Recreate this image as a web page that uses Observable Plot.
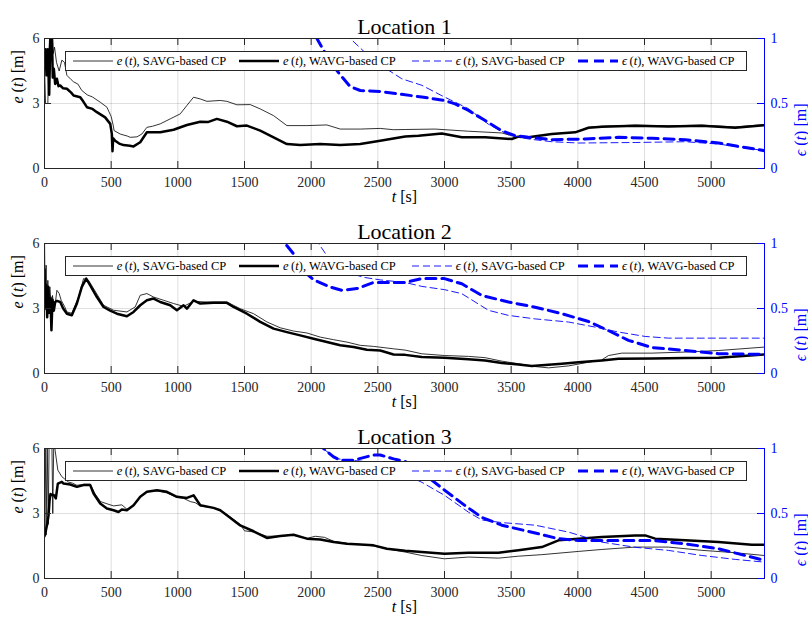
<!DOCTYPE html>
<html>
<head>
<meta charset="utf-8">
<script src="https://cdn.jsdelivr.net/npm/d3@7"></script>
<script src="https://cdn.jsdelivr.net/npm/@observablehq/plot@0.6"></script>
<style>
  body { margin: 0; background: #fff; font-family: "Liberation Serif", "DejaVu Serif", serif; }
  .panel { position: relative; width: 808px; height: 205px; overflow: visible; }
  .panel svg { display: block; overflow: visible; }
  .legend { position: absolute; left: 65px; top: 51px; width: 682px; height: 20px; box-sizing: border-box;
            border: 1px solid #262626; background: #fff; z-index: 2; }
  .item { position: absolute; top: 0; height: 18px; display: flex; align-items: center; white-space: nowrap;
          font-size: 12.5px; color: #000; line-height: 18px; }
  .item svg { margin-right: 4px; }
</style>
</head>
<body>
<div id="root"></div>
<script>
// ---------- data ----------
const xTicks = [0, 500, 1000, 1500, 2000, 2500, 3000, 3500, 4000, 4500, 5000];
const eTicks = [0, 3, 6];
const epsTickLabels = ["0", "0.5", "1"];
const titles = ["Location 1", "Location 2", "Location 3"];
const legendSymbols = ["e", "e", "ϵ", "ϵ"];
const legendMethods = ["SAVG-based CP", "WAVG-based CP", "SAVG-based CP", "WAVG-based CP"];

// Location 1: [t (s), value]
const loc1_eSAVG = [[0,4.7],[8,3.0],[25,3.0],[33,5.4],[42,6.5],[55,6.6],[65,5.3],[75,5.6],[90,4.9],[110,4.5],[130,5.0],[150,4.9],[168,4.3],[200,4.1],[218,4.0],[250,3.9],[280,3.6],[320,3.4],[360,3.3],[418,3.06],[468,2.83],[500,2.4],[515,2.0],[522,1.75],[568,1.59],[620,1.5],[643,1.44],[693,1.46],[730,1.59],[768,1.9],[810,1.95],[868,2.06],[943,2.29],[1018,2.52],[1068,2.91],[1118,3.29],[1168,3.21],[1218,3.1],[1318,3.14],[1368,3.1],[1443,2.94],[1543,2.95],[1618,2.75],[1718,2.44],[1818,1.98],[1968,1.98],[2118,2.01],[2218,1.82],[2368,1.82],[2518,1.85],[2618,1.79],[2705,1.8],[2930,1.82],[3180,1.72],[3430,1.64],[3505,1.51],[3630,1.44],[3805,1.59],[3980,1.67],[4080,1.9],[4180,1.95],[4430,2.0],[4680,1.97],[4930,2.0],[5180,1.92],[5400,2.03]];
const loc1_eWAVG = [[0,4.7],[8,5.5],[15,4.3],[25,5.5],[35,3.4],[45,6.2],[55,6.5],[62,4.2],[70,4.6],[80,3.9],[93,4.14],[105,3.8],[118,3.83],[140,3.7],[168,3.68],[200,3.5],[218,3.37],[268,3.29],[290,3.1],[318,2.83],[360,2.75],[393,2.6],[455,2.36],[493,2.06],[505,1.6],[510,0.8],[515,1.4],[530,1.28],[560,1.15],[593,1.08],[640,1.05],[668,1.02],[718,1.21],[768,1.67],[868,1.67],[968,1.79],[1068,2.01],[1168,2.16],[1230,2.15],[1293,2.29],[1368,2.16],[1443,1.95],[1518,1.98],[1618,1.75],[1718,1.44],[1818,1.13],[1918,1.08],[2068,1.13],[2218,1.08],[2368,1.13],[2518,1.28],[2705,1.48],[2805,1.51],[2980,1.62],[3130,1.44],[3305,1.44],[3505,1.36],[3555,1.47],[3630,1.44],[3805,1.59],[3980,1.67],[4080,1.88],[4180,1.93],[4430,1.97],[4680,1.94],[4930,1.97],[5180,1.88],[5400,2.0]];
const loc1_epsSAVG = [[2200,1.1],[2293,1.0],[2468,0.83],[2680,0.69],[2830,0.64],[2980,0.56],[3180,0.46],[3330,0.34],[3480,0.26],[3630,0.227],[3805,0.206],[4005,0.196],[4430,0.2],[4805,0.206],[5055,0.188],[5400,0.137]];
const loc1_epsWAVG = [[1990,1.12],[2043,1.0],[2143,0.82],[2218,0.72],[2293,0.63],[2368,0.60],[2518,0.593],[2643,0.575],[2830,0.55],[3000,0.523],[3080,0.497],[3180,0.446],[3305,0.369],[3430,0.29],[3530,0.253],[3630,0.24],[3805,0.222],[4055,0.227],[4305,0.24],[4555,0.232],[4805,0.222],[5055,0.196],[5400,0.137]];

// Location 2
const loc2_eSAVG = [[0,6.5],[5,3.0],[12,5.0],[18,2.8],[25,4.3],[32,3.0],[40,4.0],[50,3.2],[60,3.6],[70,3.0],[80,3.2],[93,3.84],[110,3.7],[125,3.38],[150,3.1],[168,2.84],[205,2.78],[255,3.53],[293,4.38],[330,4.3],[380,3.8],[443,3.15],[518,2.92],[618,2.84],[680,3.07],[718,3.61],[768,3.69],[818,3.53],[893,3.38],[968,3.23],[1043,3.1],[1118,3.33],[1218,3.3],[1368,3.3],[1468,2.99],[1568,2.76],[1668,2.38],[1768,2.11],[1868,1.96],[1968,1.87],[2068,1.68],[2168,1.56],[2268,1.45],[2368,1.3],[2468,1.25],[2618,1.14],[2705,1.08],[2830,0.91],[3000,0.83],[3180,0.79],[3305,0.73],[3430,0.57],[3555,0.45],[3680,0.32],[3780,0.26],[3930,0.35],[4080,0.52],[4180,0.63],[4230,0.83],[4330,0.94],[4555,0.94],[4805,0.99],[5055,1.06],[5400,1.22]];
const loc2_eWAVG = [[0,4.8],[6,3.0],[12,4.1],[20,2.6],[28,4.0],[36,2.8],[45,3.5],[52,2.0],[60,3.4],[70,2.9],[80,3.3],[93,3.35],[118,3.3],[140,3.0],[168,2.76],[205,2.69],[243,3.23],[280,4.0],[313,4.38],[343,4.07],[393,3.53],[443,3.07],[493,2.9],[543,2.76],[618,2.64],[668,2.84],[718,3.15],[768,3.38],[818,3.46],[868,3.3],[943,3.15],[993,2.92],[1043,3.15],[1068,2.99],[1118,3.38],[1168,3.23],[1268,3.26],[1368,3.26],[1418,3.07],[1518,2.76],[1618,2.38],[1718,2.07],[1818,1.91],[1918,1.76],[2018,1.6],[2118,1.45],[2218,1.30],[2318,1.22],[2418,1.10],[2518,1.06],[2618,0.88],[2705,0.86],[2830,0.76],[3000,0.73],[3180,0.66],[3305,0.60],[3430,0.48],[3555,0.42],[3655,0.35],[3755,0.39],[3880,0.45],[4005,0.52],[4180,0.60],[4305,0.68],[4555,0.69],[4805,0.71],[5055,0.73],[5400,0.88]];
const loc2_epsSAVG = [[2000,1.12],[2055,1.0],[2143,0.87],[2268,0.78],[2393,0.74],[2518,0.72],[2705,0.70],[2830,0.67],[3000,0.645],[3130,0.614],[3230,0.55],[3330,0.486],[3480,0.447],[3680,0.42],[3930,0.396],[4130,0.357],[4305,0.319],[4505,0.285],[4680,0.272],[5055,0.272],[5400,0.272]];
const loc2_epsWAVG = [[1780,1.1],[1805,1.0],[1868,0.92],[1930,0.80],[2018,0.72],[2143,0.665],[2230,0.64],[2343,0.653],[2468,0.70],[2593,0.70],[2705,0.70],[2830,0.73],[3000,0.73],[3130,0.69],[3280,0.60],[3480,0.55],[3680,0.51],[3880,0.46],[4080,0.40],[4230,0.33],[4380,0.255],[4555,0.20],[4805,0.177],[5055,0.152],[5400,0.147]];

// Location 3
const loc3_eSAVG = [[0,3.9],[5,6.5],[12,2.0],[20,6.5],[28,2.5],[35,6.5],[45,6.5],[55,6.5],[62,3.0],[70,6.5],[80,5.9],[100,5.0],[130,4.7],[150,4.6],[180,4.45],[210,4.4],[243,4.3],[293,4.35],[343,4.35],[380,3.9],[420,3.55],[468,3.45],[518,3.35],[580,3.4],[618,3.2],[668,3.35],[718,3.75],[768,4.0],[843,4.05],[918,3.95],[993,3.75],[1043,3.7],[1093,3.55],[1130,3.5],[1168,3.35],[1268,3.25],[1318,3.15],[1368,2.95],[1468,2.5],[1500,2.2],[1568,2.15],[1668,1.95],[1768,1.96],[1868,2.0],[1968,1.85],[2030,1.95],[2100,1.9],[2168,1.72],[2268,1.62],[2368,1.57],[2468,1.5],[2568,1.37],[2705,1.22],[2830,1.06],[3000,0.91],[3180,0.99],[3405,0.94],[3555,1.03],[3730,1.10],[4005,1.25],[4180,1.34],[4430,1.45],[4680,1.45],[4930,1.30],[5180,1.19],[5400,1.06]];
const loc3_eWAVG = [[0,1.95],[10,2.2],[20,2.5],[30,2.9],[38,3.6],[45,3.9],[55,3.85],[70,3.85],[85,3.7],[100,4.38],[130,4.46],[143,4.38],[193,4.34],[243,4.23],[293,4.31],[343,4.31],[368,3.92],[418,3.46],[468,3.23],[518,3.15],[555,3.07],[580,3.18],[618,3.15],[668,3.38],[718,3.77],[768,4.0],[843,4.07],[918,4.0],[993,3.77],[1068,3.72],[1118,3.84],[1168,3.38],[1268,3.26],[1318,3.15],[1368,2.92],[1468,2.45],[1568,2.18],[1668,1.87],[1768,1.96],[1868,2.02],[1968,1.84],[2068,1.80],[2168,1.68],[2268,1.60],[2368,1.57],[2468,1.53],[2568,1.37],[2705,1.28],[2830,1.22],[3000,1.14],[3180,1.19],[3405,1.19],[3555,1.30],[3730,1.45],[3855,1.76],[4005,1.84],[4180,1.91],[4430,1.99],[4505,1.99],[4580,1.84],[4805,1.76],[5055,1.68],[5305,1.56],[5400,1.56]];
const loc3_epsSAVG = [[2060,1.06],[2100,0.99],[2200,0.92],[2400,0.9],[2600,0.86],[2705,0.80],[2830,0.74],[3000,0.64],[3180,0.51],[3280,0.45],[3430,0.43],[3680,0.41],[3930,0.357],[4180,0.28],[4430,0.24],[4680,0.216],[4930,0.177],[5180,0.147],[5400,0.126]];
const loc3_epsWAVG = [[2060,1.06],[2093,1.0],[2168,0.935],[2218,0.91],[2318,0.91],[2468,0.95],[2518,0.95],[2618,0.92],[2705,0.90],[2800,0.84],[2900,0.76],[3000,0.68],[3155,0.56],[3280,0.47],[3430,0.41],[3680,0.35],[3855,0.306],[4005,0.293],[4305,0.293],[4555,0.293],[4805,0.267],[5055,0.229],[5400,0.139]];

const locations = [
  [loc1_eSAVG, loc1_eWAVG, loc1_epsSAVG, loc1_epsWAVG],
  [loc2_eSAVG, loc2_eWAVG, loc2_epsSAVG, loc2_epsWAVG],
  [loc3_eSAVG, loc3_eWAVG, loc3_epsSAVG, loc3_epsWAVG]
];

// ---------- styles ----------
const FONT = "'Liberation Serif', 'DejaVu Serif', serif";
const AX = "#262626";
const BLUE = "#0000ff";
const seriesStyle = [
  {stroke: "#000", width: 0.8, dash: null},
  {stroke: "#000", width: 2.5, dash: null},
  {stroke: BLUE, width: 0.9, dash: "7,4"},
  {stroke: BLUE, width: 3, dash: "10,6"}
];
const legendItemLeft = [6.7, 173, 345.7, 512];

const E_MAX = 6, X_MAX = 5400, FRAME_W = 720, FRAME_H = 130, TICK = 7;
const tx = X_MAX * TICK / FRAME_W, ty = E_MAX * TICK / FRAME_H;

const rich = {
  "e (t) [m]": '<tspan font-style="italic">e</tspan> (<tspan font-style="italic">t</tspan>) [m]',
  "ϵ (t) [m]": '<tspan font-style="italic">ϵ</tspan> (<tspan font-style="italic">t</tspan>) [m]',
  "t [s]": '<tspan font-style="italic">t</tspan> [s]'
};

const rows = arr => arr.map(([t, v]) => ({t, v}));

function makePanel(title, series) {
  const [eS, eW, pS, pW] = series;
  const plot = Plot.plot({
    width: 808, height: 205,
    marginLeft: 44, marginRight: 44, marginTop: 38, marginBottom: 37,
    x: {domain: [0, X_MAX]},
    y: {domain: [0, E_MAX]},
    style: {fontFamily: FONT, fontSize: "14px", color: AX, background: "transparent", overflow: "visible"},
    marks: [
      Plot.gridX(xTicks, {stroke: AX, strokeOpacity: 0.15}),
      Plot.gridY(eTicks, {stroke: AX, strokeOpacity: 0.15}),
      Plot.line(rows(eS), {x: "t", y: "v", stroke: seriesStyle[0].stroke, strokeWidth: seriesStyle[0].width, clip: true}),
      Plot.line(rows(eW), {x: "t", y: "v", stroke: seriesStyle[1].stroke, strokeWidth: seriesStyle[1].width, strokeLinejoin: "round", clip: true}),
      Plot.line(rows(pS), {x: "t", y: d => d.v * E_MAX, stroke: seriesStyle[2].stroke, strokeWidth: seriesStyle[2].width, strokeDasharray: seriesStyle[2].dash, clip: true}),
      Plot.line(rows(pW), {x: "t", y: d => d.v * E_MAX, stroke: seriesStyle[3].stroke, strokeWidth: seriesStyle[3].width, strokeDasharray: seriesStyle[3].dash, clip: true}),
      Plot.frame({stroke: AX}),
      Plot.ruleX([X_MAX], {stroke: BLUE}),
      Plot.ruleX(xTicks, {x: d => d, y1: 0, y2: ty, stroke: AX}),
      Plot.ruleX(xTicks, {x: d => d, y1: E_MAX - ty, y2: E_MAX, stroke: AX}),
      Plot.ruleY(eTicks, {y: d => d, x1: 0, x2: tx, stroke: AX}),
      Plot.ruleY(eTicks, {y: d => d, x1: X_MAX - tx, x2: X_MAX, stroke: BLUE}),
      Plot.axisX({ticks: xTicks, tickSize: 0, tickPadding: 9, label: null, fontSize: 14, fontFamily: FONT, fontVariant: "normal",
                  color: AX, tickFormat: d => String(d)}),
      Plot.axisY({ticks: eTicks, anchor: "left", tickSize: 0, tickPadding: 5, label: null, fontSize: 14, fontFamily: FONT, fontVariant: "normal",
                  color: AX, tickFormat: d => String(d)}),
      Plot.axisY({ticks: eTicks, anchor: "right", tickSize: 0, tickPadding: 6, label: null, fontSize: 14, fontFamily: FONT, fontVariant: "normal",
                  color: BLUE, tickFormat: d => epsTickLabels[eTicks.indexOf(d)]}),
      Plot.text([title], {text: d => d, frameAnchor: "top", dy: -20, fontSize: 22, fontFamily: FONT, fill: "#000"}),
      Plot.text(["e (t) [m]"], {text: d => d, frameAnchor: "left", dx: -27, rotate: -90, fontSize: 16, fontFamily: FONT, fill: "#000"}),
      Plot.text(["ϵ (t) [m]"], {text: d => d, frameAnchor: "right", dx: 36, rotate: -90, fontSize: 16, fontFamily: FONT, fill: BLUE}),
      Plot.text(["t [s]"], {text: d => d, frameAnchor: "bottom", dy: 33, fontSize: 16, fontFamily: FONT, fill: "#000"})
    ]
  });
  for (const el of plot.querySelectorAll("text")) {
    const key = el.textContent;
    if (rich[key]) el.innerHTML = rich[key];
  }
  const wrap = document.createElement("div");
  wrap.className = "panel";
  wrap.appendChild(plot);

  const lg = document.createElement("div");
  lg.className = "legend";
  seriesStyle.forEach((s, i) => {
    const it = document.createElement("div");
    it.className = "item";
    it.style.left = legendItemLeft[i] + "px";
    const ns = "http://www.w3.org/2000/svg";
    const sv = document.createElementNS(ns, "svg");
    sv.setAttribute("width", 40); sv.setAttribute("height", 10);
    const ln = document.createElementNS(ns, "line");
    ln.setAttribute("x1", 0); ln.setAttribute("x2", 40); ln.setAttribute("y1", 5); ln.setAttribute("y2", 5);
    ln.setAttribute("stroke", s.stroke); ln.setAttribute("stroke-width", s.width);
    if (s.dash) ln.setAttribute("stroke-dasharray", s.dash);
    sv.appendChild(ln);
    it.appendChild(sv);
    const tspan = document.createElement("span");
    tspan.innerHTML = `<i>${legendSymbols[i]}</i>&#8201;(<i>t</i>), ${legendMethods[i]}`;
    it.appendChild(tspan);
    lg.appendChild(it);
  });
  wrap.appendChild(lg);
  return wrap;
}

const root = document.getElementById("root");
titles.forEach((t, i) => root.appendChild(makePanel(t, locations[i])));
</script>
</body>
</html>
